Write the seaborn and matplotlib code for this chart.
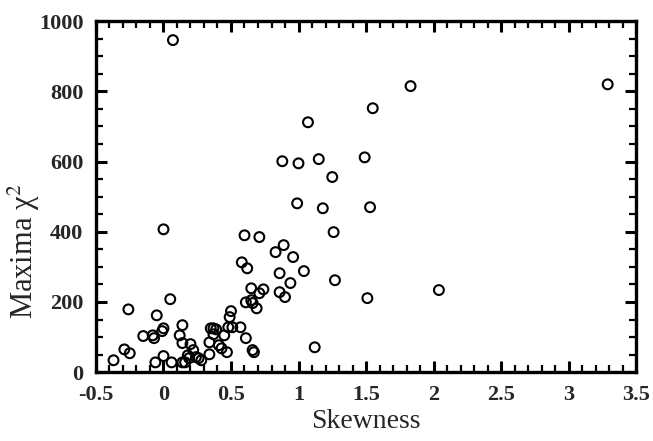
import matplotlib
matplotlib.use("Agg")
import matplotlib.pyplot as plt
from matplotlib.ticker import MultipleLocator
import numpy as np
import seaborn as sns

# skewness vs maxima chi^2
skewness = [0.07, 3.29, 1.83, 1.55, 1.07, 0.88, 1.00, 1.15, 1.49, 1.25,
            0.99, 1.18, 1.53, 0.60, 0.71, 1.26, 0.89, 0.83, 0.96, 0.58,
            0.62, 0.86, 1.04, 0.94, 1.27, 0.65, 0.74, 0.71, 0.86, 0.90,
            1.51, 2.04, 1.12, 0.61, 0.65, 0.66, 0.69, 0.50, 0.49, 0.48,
            0.45, 0.57, 0.61, 0.67, 0.66, 0.47, 0.41, 0.43, 0.35, 0.37,
            0.39, 0.37, 0.34, 0.34, 0.24, 0.26, 0.18, 0.19, 0.22, 0.20,
            0.14, 0.12, 0.14, 0.14, 0.16, 0.06, -0.06, 0.00, -0.01, 0.00,
            -0.08, -0.07, -0.15, -0.05, 0.05, -0.26, -0.29, -0.25, -0.37, 0.00,
            0.51, 0.28]
maxima_chi2 = [946, 820, 815, 752, 712, 601, 595, 607, 612, 556,
               481, 467, 470, 390, 385, 399, 362, 342, 328, 313,
               296, 282, 288, 254, 262, 239, 236, 225, 228, 214,
               211, 234, 71, 199, 205, 197, 182, 174, 157, 128,
               105, 128, 97, 57, 63, 57, 77, 68, 125, 125,
               122, 108, 85, 51, 43, 40, 48, 40, 63, 80,
               83, 105, 134, 28, 28, 28, 28, 46, 117, 125,
               105, 97, 103, 162, 208, 179, 65, 54, 34, 407,
               128, 34]

x_ticks = [-0.5, 0, 0.5, 1, 1.5, 2, 2.5, 3, 3.5]
x_ticklabels = ["-0.5", "0", "0.5", "1", "1.5", "2", "2.5", "3", "3.5"]
y_ticks = [0, 200, 400, 600, 800, 1000]

sns.set_style("ticks")
plt.rcParams['font.family'] = ['Liberation Serif', 'DejaVu Serif']
plt.rcParams['mathtext.fontset'] = 'stix'

fig = plt.figure(figsize=(6.53, 4.41), dpi=100)
ax = fig.add_axes([0.147, 0.156, 0.827, 0.796])

sns.scatterplot(x=skewness, y=maxima_chi2, ax=ax, marker='o', s=50,
                facecolors='none', edgecolor='black', linewidth=1.5)

ax.set_xlim(-0.5, 3.5)
ax.set_ylim(0, 1000)
ax.set_xticks(x_ticks)
ax.set_xticklabels(x_ticklabels)
ax.set_yticks(y_ticks)
ax.xaxis.set_minor_locator(MultipleLocator(0.1))
ax.yaxis.set_minor_locator(MultipleLocator(50))

ax.tick_params(which='both', direction='in', top=True, right=True, color='black')
ax.tick_params(which='major', length=8, width=2.2, labelsize=16, pad=9)
ax.tick_params(which='minor', length=5, width=1.6)
for lab in ax.get_xticklabels() + ax.get_yticklabels():
    lab.set_fontweight('bold')

for sp in ax.spines.values():
    sp.set_linewidth(2.4)
    sp.set_color('black')

ax.set_xlabel("Skewness", fontsize=20, labelpad=3)
ax.set_ylabel("Maxima χ$^2$", fontsize=22)
ax.yaxis.set_label_coords(-0.1, 0.345)

fig.savefig("out.png", dpi=100)
